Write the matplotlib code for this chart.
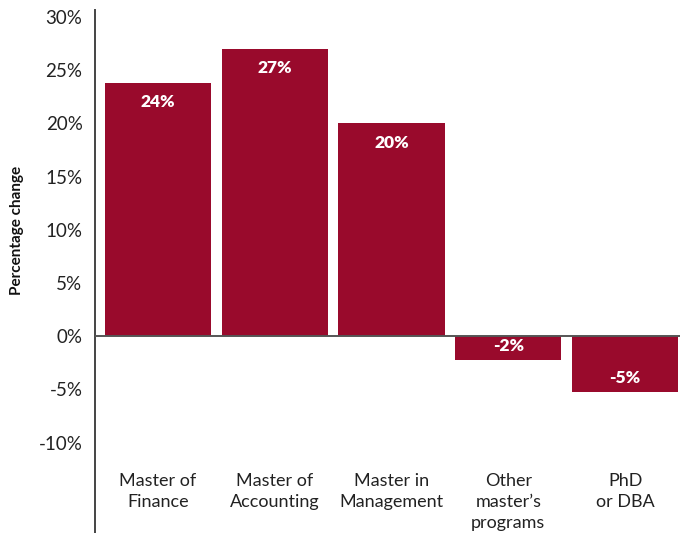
import matplotlib
matplotlib.use("Agg")
import matplotlib.pyplot as plt

categories = ["Master of\nFinance", "Master of\nAccounting", "Master in\nManagement",
              "Other\nmaster\u2019s\nprograms", "PhD\nor DBA"]
values = [23.8, 27.0, 20.0, -2.2, -5.2]
value_labels = ["24%", "27%", "20%", "-2%", "-5%"]
yticks = [-10, -5, 0, 5, 10, 15, 20, 25, 30]
ytick_labels = ["-10%", "-5%", "0%", "5%", "10%", "15%", "20%", "25%", "30%"]

plt.rcParams['font.family'] = ['Lato', 'DejaVu Sans']

fig = plt.figure(figsize=(6.8, 5.33), dpi=100)
ax = fig.add_axes([95/680, 0.0, 1 - 95/680, 1 - 10/533])

color = "#990A2C"
x = list(range(len(categories)))
ax.bar(x, values, width=0.91, color=color, zorder=2)
ax.axhline(0, color="#555555", linewidth=1.4, zorder=3)

ax.set_xlim(-0.54, 4.47)
ax.set_ylim(-18.5, 30.66)

for xi, v, lab in zip(x, values, value_labels):
    off = -14 if v >= 0 else 10
    ax.annotate(lab, (xi, v), xytext=(0, off), textcoords="offset points",
                ha="center", va="center", color="white", fontsize=12.5,
                fontweight="heavy", zorder=4)

for xi, c in zip(x, categories):
    ax.text(xi, -12.9, c, ha="center", va="top", fontsize=13, color="#222222", linespacing=1.38)

ax.set_yticks(yticks)
ax.set_yticklabels(ytick_labels, fontsize=13.5, color="#222222")
ax.tick_params(axis="y", length=0, pad=9)
ax.set_xticks([])

for s in ["top", "right", "bottom"]:
    ax.spines[s].set_visible(False)
ax.spines["left"].set_color("#444444")
ax.spines["left"].set_linewidth(1.4)

fig.text(17/680, 1 - 230/533, "Percentage change", rotation=90, ha="center", va="center",
         fontsize=11, fontweight="bold", color="#111111")

fig.savefig("out.png", dpi=100)
